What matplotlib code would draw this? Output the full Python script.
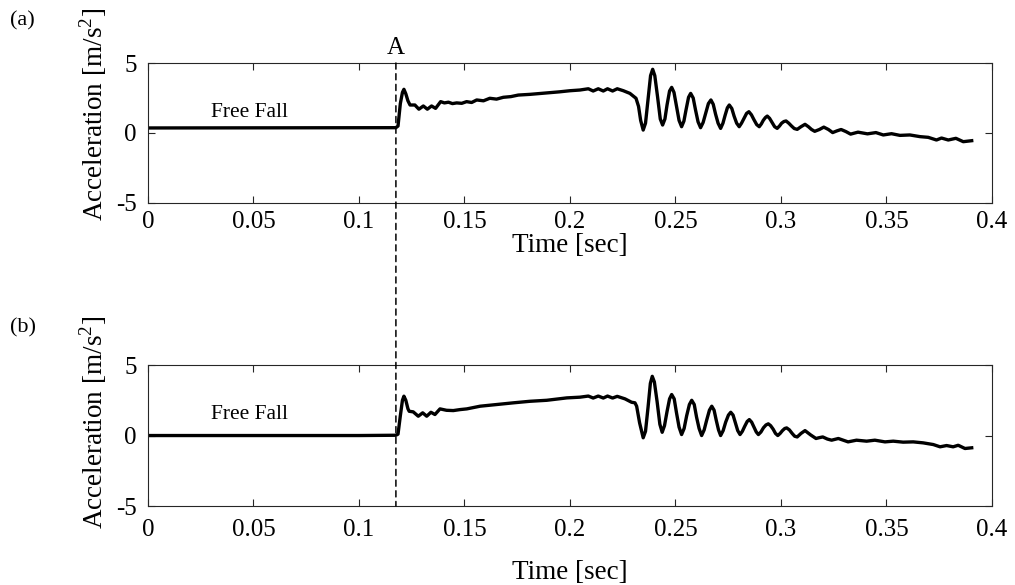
import numpy as np
import matplotlib
matplotlib.use('Agg')
import matplotlib.pyplot as plt
from matplotlib.patches import ConnectionPatch

plt.rcParams['font.family'] = ['Liberation Serif', 'DejaVu Serif']
plt.rcParams['mathtext.fontset'] = 'custom'
plt.rcParams['mathtext.rm'] = 'Liberation Serif'
plt.rcParams['axes.unicode_minus'] = False

# ---- datos ----
# (a) aceleracion medida
t_a = [0.0, 0.05, 0.1, 0.1175, 0.1185, 0.1196, 0.1206, 0.1213, 0.1222, 0.1232,
       0.1242, 0.1265, 0.1284, 0.1305, 0.1324, 0.1344, 0.1363, 0.1387, 0.1405,
       0.1424, 0.1443, 0.1463, 0.1487, 0.151, 0.1534, 0.1558, 0.159, 0.162,
       0.1652, 0.1684, 0.172, 0.1755, 0.181, 0.1857, 0.1905, 0.195, 0.2,
       0.2047, 0.2087, 0.211, 0.2134, 0.2158, 0.2178, 0.2202, 0.2224, 0.2253,
       0.2284, 0.2313, 0.2325, 0.2335, 0.2347, 0.2358, 0.2370, 0.2382, 0.2392,
       0.2402, 0.2415, 0.2428, 0.2439, 0.2450, 0.2460, 0.2472, 0.2482, 0.2493,
       0.2505, 0.2517, 0.2529, 0.2540, 0.2550, 0.2562, 0.2572, 0.2584, 0.2595,
       0.2607, 0.2619, 0.2631, 0.2643, 0.2656, 0.2668, 0.2679, 0.2690, 0.2702,
       0.2714, 0.2725, 0.2735, 0.2746, 0.2755, 0.2767, 0.2778, 0.2790, 0.2802,
       0.2813, 0.2825, 0.2837, 0.2848, 0.2860, 0.2872, 0.2885, 0.2897, 0.2907,
       0.2916, 0.2926, 0.2935, 0.2946, 0.2958, 0.2970, 0.2982, 0.2993, 0.3003,
       0.3014, 0.3024, 0.3037, 0.3050, 0.3063, 0.3077, 0.3095, 0.3114, 0.3130,
       0.3145, 0.3160, 0.3182, 0.3203, 0.3225, 0.3245, 0.3265, 0.3285, 0.3308,
       0.3330, 0.3365, 0.3410, 0.3450, 0.3485, 0.3524, 0.3564, 0.3611, 0.3659,
       0.3698, 0.3737, 0.3761, 0.3793, 0.3829, 0.3864, 0.3904]
acc_a = [0.36, 0.37, 0.38, 0.38, 0.5, 2.1, 2.9, 3.12, 2.8, 2.3,
         2.0, 2.0, 1.7, 1.93, 1.7, 1.93, 1.76, 2.24, 2.15,
         2.2, 2.1, 2.15, 2.12, 2.24, 2.18, 2.36, 2.3, 2.48,
         2.42, 2.55, 2.6, 2.71, 2.76, 2.82, 2.88, 2.94, 3.02,
         3.07, 3.16, 3.0, 3.16, 3.0, 3.16, 3.0, 3.16, 3.02,
         2.83, 2.48, 1.9, 0.9, 0.21, 0.7, 2.4, 4.1, 4.55,
         4.1, 2.6, 1.0, 0.57, 1.0, 2.0, 3.0, 3.26, 2.9,
         1.9, 0.9, 0.45, 0.85, 1.65, 2.55, 2.83, 2.5, 1.65,
         0.8, 0.38, 0.75, 1.4, 2.1, 2.36, 2.05, 1.35, 0.7,
         0.33, 0.7, 1.25, 1.8, 2.0, 1.75, 1.2, 0.7, 0.45,
         0.7, 1.05, 1.4, 1.52, 1.3, 0.95, 0.6, 0.45, 0.65,
         0.9, 1.1, 1.21, 1.05, 0.75, 0.45, 0.33, 0.5, 0.7,
         0.82, 0.86, 0.7, 0.5, 0.32, 0.26, 0.45, 0.62, 0.45,
         0.25, 0.12, 0.25, 0.42, 0.25, 0.03, 0.15, 0.25, 0.1,
         -0.08, 0.06, -0.06, 0.03, -0.14, -0.05, -0.17, -0.14, -0.26,
         -0.31, -0.5, -0.36, -0.5, -0.38, -0.62, -0.55]

# (b) aceleracion corregida
t_b = [0.0, 0.05, 0.1, 0.1175, 0.1185, 0.1196, 0.1206, 0.1213, 0.1222, 0.1232,
       0.1238, 0.1257, 0.1281, 0.1302, 0.1321, 0.1341, 0.136, 0.1384, 0.1415,
       0.1447, 0.1479, 0.1511, 0.1574, 0.1653, 0.1732, 0.1811, 0.189, 0.1985,
       0.2047, 0.2087, 0.211, 0.2134, 0.2158, 0.2178, 0.2202, 0.2224, 0.2261,
       0.2292, 0.2308, 0.2316, 0.2330, 0.2347, 0.2358, 0.2370, 0.2381, 0.2390,
       0.2400, 0.2413, 0.2426, 0.2437, 0.2448, 0.2460, 0.2472, 0.2482, 0.2494,
       0.2505, 0.2517, 0.2529, 0.2541, 0.2553, 0.2566, 0.2577, 0.2589, 0.2600,
       0.2612, 0.2624, 0.2636, 0.2648, 0.2661, 0.2672, 0.2683, 0.2693, 0.2704,
       0.2714, 0.2726, 0.2738, 0.2751, 0.2762, 0.2773, 0.2784, 0.2795, 0.2806,
       0.2817, 0.2828, 0.2840, 0.2850, 0.2861, 0.2872, 0.2883, 0.2893, 0.2905,
       0.2917, 0.2929, 0.2940, 0.2951, 0.2963, 0.2974, 0.2985, 0.2996, 0.3007,
       0.3018, 0.3027, 0.3040, 0.3053, 0.3065, 0.3077, 0.3095, 0.3114, 0.3140,
       0.3166, 0.3182, 0.3198, 0.3220, 0.3240, 0.3272, 0.3318, 0.3358, 0.3406,
       0.3445, 0.3493, 0.3532, 0.3579, 0.3627, 0.3674, 0.3722, 0.3754, 0.3785,
       0.3816, 0.3840, 0.3872, 0.3904]
acc_b = [0.0, 0.0, 0.0, 0.02, 0.1, 1.4, 2.5, 2.79, 2.5, 1.9,
         1.72, 1.68, 1.37, 1.61, 1.37, 1.65, 1.49, 1.89, 1.79,
         1.77, 1.84, 1.89, 2.08, 2.2, 2.32, 2.43, 2.5, 2.67,
         2.72, 2.8, 2.66, 2.8, 2.66, 2.8, 2.66, 2.78, 2.6,
         2.36, 2.32, 2.08, 0.9, -0.16, 0.3, 2.0, 3.7, 4.2,
         3.8, 2.4, 0.8, 0.23, 0.7, 1.7, 2.6, 2.91, 2.6,
         1.6, 0.6, 0.07, 0.5, 1.4, 2.2, 2.5, 2.2, 1.3,
         0.5, 0.0, 0.4, 1.1, 1.8, 2.08, 1.8, 1.1, 0.4,
         0.0, 0.35, 0.95, 1.45, 1.65, 1.45, 0.9, 0.35, 0.07,
         0.3, 0.65, 1.0, 1.13, 0.95, 0.6, 0.25, 0.07, 0.25,
         0.55, 0.75, 0.83, 0.7, 0.45, 0.15, 0.0, 0.15, 0.35,
         0.5, 0.54, 0.4, 0.15, -0.05, -0.1, 0.15, 0.35, 0.05,
         -0.21, -0.15, -0.1, -0.25, -0.33, -0.21, -0.45, -0.33, -0.4,
         -0.33, -0.45, -0.4, -0.47, -0.45, -0.52, -0.64, -0.8, -0.71,
         -0.8, -0.69, -0.92, -0.87]

t_impacto = 0.1175
xticks = [0, 0.05, 0.1, 0.15, 0.2, 0.25, 0.3, 0.35, 0.4]
xticklabels = ['0', '0.05', '0.1', '0.15', '0.2', '0.25', '0.3', '0.35', '0.4']
yticks = [-5, 0, 5]

fig = plt.figure(figsize=(10.15, 5.85), dpi=100)
ax1 = fig.add_axes([0.1458, 0.653, 0.8315, 0.2393])
ax2 = fig.add_axes([0.1458, 0.135, 0.8315, 0.241])

paneles = [(ax1, t_a, acc_a, 0, 6, 0.63), (ax2, t_b, acc_b, 14, 9, 0.59)]
for ax, t, acc, lpad, tpad, ypos in paneles:
    ax.plot(t, acc, color='black', linewidth=2.4, solid_joinstyle='round')
    ax.set_xlim(0, 0.4)
    ax.set_ylim(-5, 5)
    ax.set_xticks(xticks)
    ax.set_xticklabels(xticklabels)
    ax.set_yticks(yticks)
    ax.tick_params(direction='in', top=True, right=True, length=5,
                   width=0.8, labelsize=18, colors='#262626')
    ax.tick_params(axis='x', pad=tpad)
    ax.tick_params(axis='y', pad=8)
    for s in ax.spines.values():
        s.set_color('#262626')
        s.set_linewidth(0.8)
    ax.set_xlabel('Time [sec]', fontsize=19.5, labelpad=lpad)
    ax.set_ylabel('Acceleration [m/s$^2$]', fontsize=19.5)
    ax.yaxis.set_label_coords(-0.046, ypos)
    ax.text(0.048, 1.5, 'Free Fall', fontsize=15.5, ha='center', va='center')
    for lbl in ax.get_xticklabels() + ax.get_yticklabels():
        lbl.set_color('black')

fig.text(0.01, 0.965, '(a)', fontsize=16, ha='left', va='center')
fig.text(0.01, 0.44, '(b)', fontsize=16, ha='left', va='center')
ax1.text(t_impacto, 5.3, 'A', fontsize=18, ha='center', va='bottom')

# linea de impacto que cruza ambas graficas
con = ConnectionPatch(xyA=(t_impacto, 5), coordsA=ax1.transData,
                      xyB=(t_impacto, -5), coordsB=ax2.transData,
                      color='black', linewidth=1.1, linestyle=(0, (4, 3)))
fig.add_artist(con)

plt.savefig('out.png', dpi=100)
